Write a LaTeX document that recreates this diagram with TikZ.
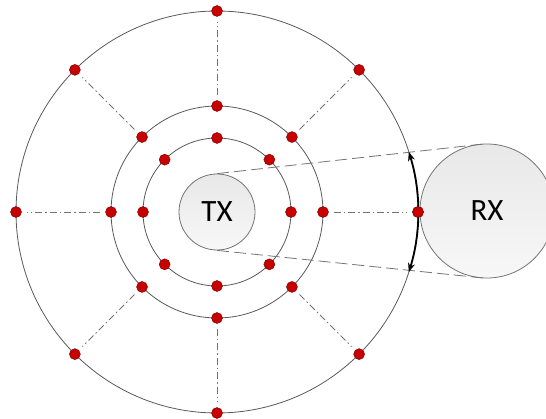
\documentclass[tikz,border=0pt]{standalone}
\usepackage{fontspec}
\setmainfont{Carlito}
\usetikzlibrary{arrows.meta}
\begin{document}
\begin{tikzpicture}[x=1pt,y=-1pt,
  ring/.style={draw=black!65, line width=0.8pt},
  station/.style={circle, draw=black!55, line width=0.8pt, inner sep=0pt,
    top color=black!9, bottom color=black!3, font=\fontsize{31}{34}\selectfont},
  dot/.style={circle, fill=red!78!black, draw=red!45!black, line width=0.4pt,
    inner sep=0pt, minimum size=11pt},
  spoke/.style={draw=black!55, line width=0.8pt,
    dash pattern=on 7pt off 3pt on 1.5pt off 3pt, shorten >=5pt, shorten <=5pt},
  beam/.style={draw=black!55, line width=0.8pt, dash pattern=on 12pt off 5pt},
  span/.style={draw=black, line width=1.8pt,
    {Stealth[length=9pt,width=7pt]}-{Stealth[length=9pt,width=7pt]}}]
\useasboundingbox (0,0) rectangle (546,419);
\coordinate (c) at (217,212);

% concentric rings
\draw[ring] (c) circle[radius=74];
\draw[ring] (c) circle[radius=106];
\draw[ring] (c) circle[radius=201];

% positions on the rings, every 45 degrees
\foreach \k in {0,...,7} {
  \coordinate (pi\k) at ([shift={(\k*45:74)}]c);
  \coordinate (pm\k) at ([shift={(\k*45:106)}]c);
  \coordinate (po\k) at ([shift={(\k*45:201)}]c);
}

% transmitter and receiver
\node[station, minimum size=76pt] (tx) at (c) {TX};
\node[station, minimum size=134pt] (rx) at (487,211) {RX};

% beam edges
\draw[beam] (tx.north) -- (rx.north);
\draw[beam] (tx.south) -- (rx.south);

% dots
\foreach \k in {0,...,7} {
  \node[dot] (i\k) at (pi\k) {};
  \node[dot] (m\k) at (pm\k) {};
  \node[dot] (o\k) at (po\k) {};
}

% spokes between middle and outer ring
\foreach \k in {0,...,7} {
  \draw[spoke] (m\k) -- (o\k);
}

% angular span on the outer ring
\draw[span] ([shift={(-17.4:201)}]c) arc[start angle=-17.4, end angle=17.4, radius=201];
\node[dot] at (po0) {};
\end{tikzpicture}
\end{document}
